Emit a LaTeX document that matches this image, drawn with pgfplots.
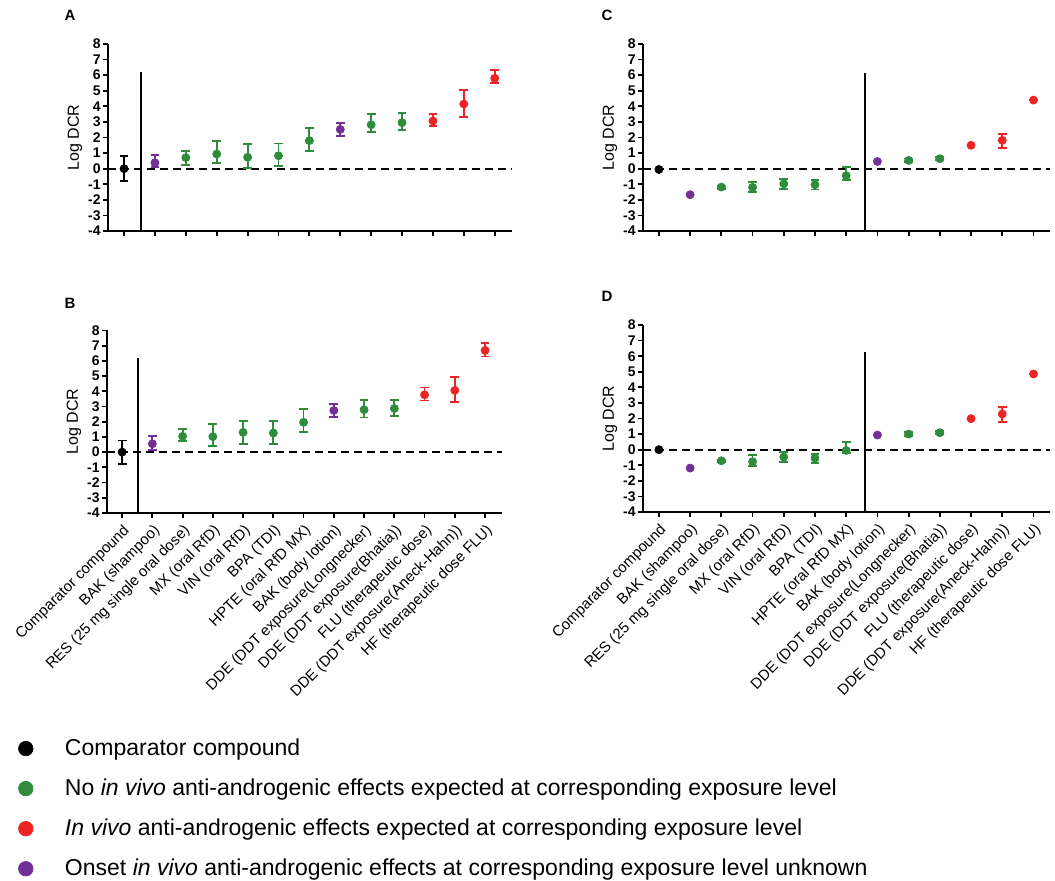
\documentclass[border=0pt]{standalone}
\usepackage{fontspec}
\setmainfont{Liberation Sans}
\usepackage{pgfplots}
\pgfplotsset{compat=1.18}
\definecolor{cgreen}{RGB}{46,140,60}
\definecolor{cred}{RGB}{237,36,36}
\definecolor{cpurple}{RGB}{112,48,150}

\pgfplotsset{
 panel/.style={
   scale only axis,
   ymin=-4, ymax=8,
   ytick={-4,...,8},
   xtick={0,...,12},
   axis x line=bottom, axis y line=left,
   axis line style={-, line width=1.3pt},
   tick align=outside,
   major tick length=2.5pt,
   tick style={line width=0.9pt, black},
   yticklabel style={font=\bfseries\fontsize{7}{8}\selectfont, inner sep=1pt},
   /pgf/number format/assume math mode=true,
   ylabel={Log DCR},
   every axis y label/.style={at={(axis description cs:0,0.5)}, xshift=-16.5pt, rotate=90, anchor=center, font=\fontsize{8}{9}\selectfont},
   xticklabels={},
   clip=false,
 },
 grp/.style={only marks, mark=*, mark size=2pt, color=#1, forget plot,
   error bars/.cd, y dir=both, y explicit,
   error bar style={line width=0.9pt, color=#1},
   error mark options={rotate=90, mark size=2.2pt, line width=0.9pt, color=#1}},
 zeroline/.style={black, line width=1.1pt, dash pattern=on 4pt off 2.5pt, forget plot},
 vline/.style={black, line width=0.8pt, forget plot},
 labs/.style={xticklabels={Comparator compound, BAK (shampoo), RES (25 mg single oral dose), MX (oral RfD), VIN (oral RfD), BPA (TDI), HPTE (oral RfD MX), BAK (body lotion), DDE (DDT exposure(Longnecker), DDE (DDT exposure(Bhatia)), FLU (therapeutic dose), DDE (DDT exposure(Aneck-Hahn)), HF (therapeutic dose FLU)},
   xticklabel style={rotate=45, anchor=north east, font=\fontsize{7.5}{8}\selectfont, inner sep=1.8pt}}
}

\begin{document}
\begin{tikzpicture}
\useasboundingbox (0,0) rectangle (527.5pt,-440pt);

% Panel A
\begin{axis}[panel, at={(54pt,-115.5pt)}, anchor=south west, width=202pt, height=93.5pt, xmin=-0.52, xmax=12.56]
\addplot[zeroline] coordinates {(-0.52,0) (12.56,0)};
\addplot[vline] coordinates {(0.55,-4) (0.55,6.2)};
\addplot[grp=black] coordinates {(0,0) +- (0,0.8)};
\addplot[grp=cpurple] coordinates {(1,0.38) += (0,0.5) -= (0,0.25) (7,2.52) +- (0,0.42)};
\addplot[grp=cgreen] coordinates {(2,0.71) +- (0,0.45) (3,0.94) += (0,0.86) -= (0,0.6) (4,0.73) += (0,0.85) -= (0,0.67) (5,0.83) += (0,0.79) -= (0,0.66) (6,1.8) += (0,0.81) -= (0,0.64) (8,2.82) += (0,0.69) -= (0,0.47) (9,2.95) += (0,0.62) -= (0,0.47)};
\addplot[grp=cred] coordinates {(10,3.06) += (0,0.45) -= (0,0.34) (11,4.15) += (0,0.9) -= (0,0.81) (12,5.8) += (0,0.51) -= (0,0.3)};
\end{axis}

% Panel B
\begin{axis}[panel, labs, at={(53.5pt,-256.5pt)}, anchor=south west, width=197.5pt, height=91.3pt, xmin=-0.5, xmax=12.56,
  legend style={at={(axis description cs:-0.24,-1.19)}, anchor=north west, draw=none, fill=none, font=\fontsize{11.5}{13}\selectfont, row sep=6.2pt, column sep=14pt, cells={anchor=west}}]
\addplot[zeroline] coordinates {(-0.5,0) (12.56,0)};
\addplot[vline] coordinates {(0.53,-4) (0.53,6.2)};
\addplot[grp=black] coordinates {(0,0) += (0,0.77) -= (0,0.8)};
\addplot[grp=cpurple] coordinates {(1,0.55) += (0,0.53) -= (0,0.39) (7,2.74) +- (0,0.44)};
\addplot[grp=cgreen] coordinates {(2,1.04) += (0,0.48) -= (0,0.33) (3,1.02) += (0,0.81) -= (0,0.59) (4,1.3) +- (0,0.75) (5,1.26) += (0,0.79) -= (0,0.75) (6,1.96) += (0,0.87) -= (0,0.64) (8,2.79) += (0,0.65) -= (0,0.51) (9,2.87) += (0,0.57) -= (0,0.48)};
\addplot[grp=cred] coordinates {(10,3.77) += (0,0.48) -= (0,0.37) (11,4.06) += (0,0.87) -= (0,0.79) (12,6.69) += (0,0.46) -= (0,0.4)};
\addlegendimage{only marks, mark=*, mark size=3.6pt, black}
\addlegendentry{Comparator compound}
\addlegendimage{only marks, mark=*, mark size=3.6pt, cgreen}
\addlegendentry{No \textit{in vivo} anti-androgenic effects expected at corresponding exposure level}
\addlegendimage{only marks, mark=*, mark size=3.6pt, cred}
\addlegendentry{\textit{In vivo} anti-androgenic effects expected at corresponding exposure level}
\addlegendimage{only marks, mark=*, mark size=3.6pt, cpurple}
\addlegendentry{Onset \textit{in vivo} anti-androgenic effects at corresponding exposure level unknown}
\end{axis}

% Panel C
\begin{axis}[panel, at={(321.5pt,-115.5pt)}, anchor=south west, width=203.5pt, height=93.5pt, xmin=-0.51, xmax=12.53]
\addplot[zeroline] coordinates {(-0.51,0) (12.53,0)};
\addplot[vline] coordinates {(6.6,-4) (6.6,6.16)};
\addplot[grp=black] coordinates {(0,-0.05)};
\addplot[grp=cpurple] coordinates {(1,-1.67) (7,0.46)};
\addplot[grp=cgreen] coordinates {(2,-1.18) +- (0,0.1) (3,-1.2) += (0,0.34) -= (0,0.32) (4,-0.97) +- (0,0.33) (5,-1.03) +- (0,0.3) (6,-0.45) += (0,0.58) -= (0,0.3) (8,0.53) +- (0,0.12) (9,0.64) +- (0,0.1)};
\addplot[grp=cred] coordinates {(10,1.5) (11,1.82) += (0,0.43) -= (0,0.49) (12,4.4)};
\end{axis}

% Panel D
\begin{axis}[panel, labs, at={(321.5pt,-256pt)}, anchor=south west, width=203.5pt, height=93.5pt, xmin=-0.51, xmax=12.53]
\addplot[zeroline] coordinates {(-0.51,0) (12.53,0)};
\addplot[vline] coordinates {(6.6,-4) (6.6,6.25)};
\addplot[grp=black] coordinates {(0,0)};
\addplot[grp=cpurple] coordinates {(1,-1.18) (7,0.94)};
\addplot[grp=cgreen] coordinates {(2,-0.71) +- (0,0.08) (3,-0.77) += (0,0.41) -= (0,0.26) (4,-0.47) += (0,0.3) -= (0,0.34) (5,-0.54) += (0,0.28) -= (0,0.32) (6,-0.05) += (0,0.56) -= (0,0.15) (8,1.0) +- (0,0.12) (9,1.09) +- (0,0.1)};
\addplot[grp=cred] coordinates {(10,1.99) (11,2.29) += (0,0.43) -= (0,0.49) (12,4.86)};
\end{axis}

\node[font=\bfseries\fontsize{7.5}{9}\selectfont] at (35pt,-7.75pt) {A};
\node[font=\bfseries\fontsize{7.5}{9}\selectfont] at (35pt,-151.5pt) {B};
\node[font=\bfseries\fontsize{7.5}{9}\selectfont] at (303.5pt,-7.75pt) {C};
\node[font=\bfseries\fontsize{7.5}{9}\selectfont] at (303.5pt,-148pt) {D};
\end{tikzpicture}
\end{document}
